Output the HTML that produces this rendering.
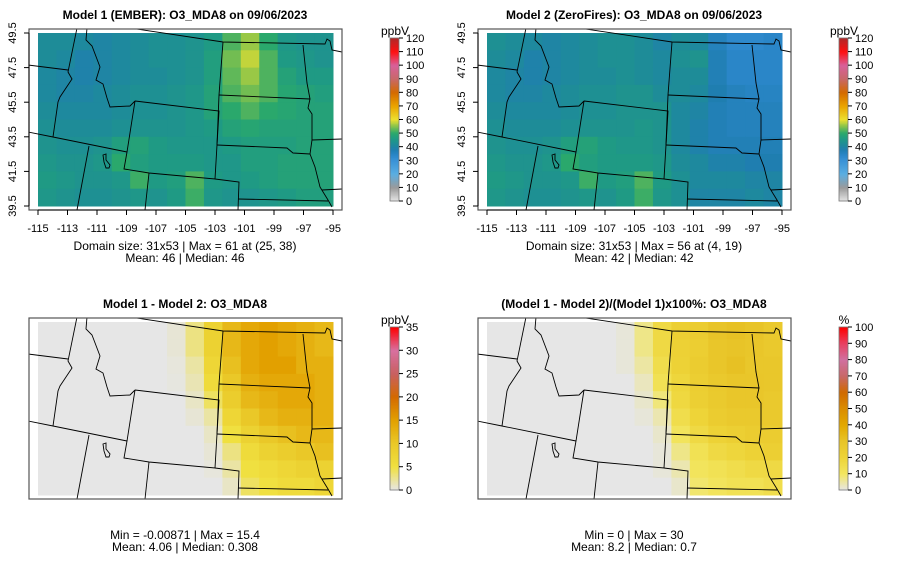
<!DOCTYPE html>
<html><head><meta charset="utf-8"><style>
body{margin:0;background:#fff;font-family:"Liberation Sans",sans-serif}
svg{display:block}
</style></head><body>
<svg id="fig" width="900" height="579" viewBox="0 0 900 579" xmlns="http://www.w3.org/2000/svg" font-family="Liberation Sans, sans-serif"></svg>
<script>
const lonTicks=[-115,-113,-111,-109,-107,-105,-103,-101,-99,-97,-95];
const latTicks=[39.5,41.5,43.5,45.5,47.5,49.5];
const model1=[
[42,42,41,40,41,42,43,43,44,46,52,56,50,45,44,44],
[42,41,39,40,41,42,43,43,44,47,54,58,52,46,45,44],
[41,40,39,40,41,42,42,43,44,47,53,56,52,48,46,46],
[41,40,40,41,42,43,43,44,45,48,52,54,52,49,48,47],
[42,41,41,41,42,43,43,44,45,48,50,52,50,49,48,48],
[43,42,42,42,43,44,44,44,45,46,48,49,48,48,48,48],
[44,43,43,44,47,48,46,45,45,45,46,47,47,47,48,48],
[45,44,44,45,50,47,46,46,46,45,45,47,47,48,48,48],
[46,45,44,44,45,51,46,47,52,46,45,46,47,48,48,48],
[45,44,43,43,44,45,44,46,51,45,44,44,45,46,47,47]];
const model2=[
[43,42,41,40,41,42,43,43,42,40,42,41,36,33,33,34],
[42,41,39,40,41,42,43,43,42,41,43,44,37,34,34,34],
[41,40,39,40,41,42,42,43,42,41,42,42,37,34,34,34],
[41,40,40,41,42,43,43,44,44,42,42,41,38,36,35,35],
[42,41,41,41,42,43,43,44,44,44,41,40,37,36,36,36],
[43,42,42,42,43,44,44,44,45,44,41,39,37,36,36,36],
[44,43,43,44,47,48,46,45,45,44,41,39,37,37,37,37],
[45,44,44,45,50,47,46,46,46,45,42,41,39,39,38,38],
[46,45,44,44,45,51,46,47,52,46,43,41,41,41,40,40],
[45,44,43,43,44,45,44,46,51,45,43,40,40,40,41,40]];
const diff=[
[0,0,0,0,0,0,0,0.5,3,8,12,14,15,14,13,12],
[0,0,0,0,0,0,0,0.5,3,8,12,14,15,14,13,12],
[0,0,0,0,0,0,0,0.3,2,7,11,14,15,15,13,13],
[0,0,0,0,0,0,0,0.2,1.5,6,10,13,14,14,14,13],
[0,0,0,0,0,0,0,0,1,4,9,12,13,14,14,13],
[0,0,0,0,0,0,0,0,0.5,2,7,10,12,13,13,13],
[0,0,0,0,0,0,0,0,0,1,5,8,10,11,12,12],
[0,0,0,0,0,0,0,0,0,0.5,3,6,8,9,10,11],
[0,0,0,0,0,0,0,0,0,0.3,2,5,6,7,8,8],
[0,0,0,0,0,0,0,0,0,0,1,4,5,6,6,7]];
const pct=[
[0,0,0,0,0,0,0,1,7,17,23,25,30,31,30,27],
[0,0,0,0,0,0,0,1,7,17,22,24,29,30,29,27],
[0,0,0,0,0,0,0,1,5,15,21,25,29,31,28,28],
[0,0,0,0,0,0,0,0,3,13,19,24,27,29,29,28],
[0,0,0,0,0,0,0,0,2,8,18,23,26,29,29,27],
[0,0,0,0,0,0,0,0,1,4,15,20,25,27,27,27],
[0,0,0,0,0,0,0,0,0,2,11,17,21,23,25,25],
[0,0,0,0,0,0,0,0,0,1,7,13,17,19,21,23],
[0,0,0,0,0,0,0,0,0,1,4,11,13,15,17,17],
[0,0,0,0,0,0,0,0,0,0,2,9,11,13,13,15]];
const ticksConc=[0,10,20,30,40,50,60,70,80,90,100,110,120];
const ticksDiff=[0,5,10,15,20,25,30,35];
const ticksPct=[0,10,20,30,40,50,60,70,80,90,100];

const NS="http://www.w3.org/2000/svg";
const svg=document.getElementById('fig');
function el(t,a,p){const e=document.createElementNS(NS,t);for(const k in a)e.setAttribute(k,a[k]);(p||svg).appendChild(e);return e;}
function hex(c){return [parseInt(c.slice(1,3),16),parseInt(c.slice(3,5),16),parseInt(c.slice(5,7),16)];}
function interp(stops,v){
  if(v<=stops[0][0])return stops[0][1];
  for(let i=1;i<stops.length;i++){if(v<=stops[i][0]){const a=stops[i-1],b=stops[i];const t=(v-a[0])/(b[0]-a[0]);const ca=hex(a[1]),cb=hex(b[1]);return 'rgb('+ca.map((x,j)=>Math.round(x+(cb[j]-x)*t)).join(',')+')';}}
  return stops[stops.length-1][1];}
const concStops=[[0,'#e6e6e6'],[10,'#9a9a9a'],[20,'#5aaee2'],[30,'#3a92d6'],[34,'#2a86c8'],[38,'#1f7eb0'],[42,'#1e8c98'],[46,'#1f9a84'],[50,'#2aa86c'],[55,'#84c24c'],[60,'#ece030'],[70,'#eaa400'],[80,'#d46a00'],[90,'#c86868'],[100,'#d8609a'],[110,'#ff1010'],[120,'#b02828']];
const diffStops=[[0,'#e6e6e6'],[5,'#f0e040'],[10,'#eac828'],[15,'#e2a000'],[20,'#d46a00'],[25,'#c86060'],[30,'#d870a0'],[35,'#ff0000']];
const pctStops=[[0,'#e6e6e6'],[10,'#f2e660'],[20,'#eed438'],[30,'#e8c428'],[40,'#e2a800'],[50,'#da8c00'],[60,'#d06a00'],[70,'#c86868'],[80,'#d070a0'],[90,'#e84060'],[100,'#ff0000']];

const X0=38,X1=333,Y0=33,Y1=206;
function xs(lon){return X0+(lon+115)/20*(X1-X0);}
function ys(lat){return Y1-(lat-39.5)/10*(Y1-Y0);}
const borders=[
"M130,28 L223,42 L325,44 L327,39 L330,41 L332,50 L342,52",
"M77,28 L68,72 L72,79 L60,97 L58,102 L53,137",
"M87,28 L86,40 L92,46 L100,67 L96,80 L103,84 L107,98 L110,107 L130,106 L135,101",
"M28,65 L68,70",
"M28,132 L53,137 L127,152",
"M89,146 L77,210",
"M135,101 L219,111 L215,179 L149,173 L124,169 L127,152 L135,101",
"M149,173 L145,210",
"M215,179 L239,182 L238,210",
"M238,199 L328,201",
"M223,42 L219,95 L217,145",
"M219,95 L310,99",
"M217,145 L287,148 L293,153 L310,154",
"M303,45 L307,83 L310,99 L308,108 L312,114 L312,140 L310,154 L315,167 L320,187 L328,200 L332,207",
"M312,140 L342,139","M322,190 L342,189",
"M103,155 L106,154 L106,160 L110,165 L109,168 L106,168 L104,162 Z"];

function panel(ox,oy,name,title,grid,stops,ticks,maxv,unit,txt,axes){
  const g=el('g',{transform:`translate(${ox},${oy})`});
  
  
  const t=el('text',{x:185,y:19,'text-anchor':'middle','font-size':12,'font-weight':'bold',fill:'#000'},g);t.textContent=title;
  
  const hm=el('g',{},g);
  const R=grid.length,C=grid[0].length;
  for(let r=0;r<R;r++)for(let c=0;c<C;c++){
    const lonA=-115+c*20/C,lonB=-115+(c+1)*20/C,latA=49.5-r*10/R,latB=49.5-(r+1)*10/R;
    const x=xs(lonA),y=ys(latA);
    const cell=el('rect',{x:x.toFixed(2),y:y.toFixed(2),width:(xs(lonB)-x+0.5).toFixed(2),height:(ys(latB)-y+0.5).toFixed(2),fill:interp(stops,grid[r][c])},hm);
    
  }
  const clipId='c'+ox+'_'+oy;
  const cp=el('clipPath',{id:clipId},g);el('rect',{x:29,y:29,width:313,height:181},cp);
  const bg=el('g',{'clip-path':`url(#${clipId})`,fill:'none',stroke:'#000','stroke-width':0.9},g);
  
  borders.forEach(d=>el('path',{d},bg));
  const box=el('rect',{x:29,y:29,width:313,height:181,fill:'none',stroke:'#555','stroke-width':1.2},g);
  
  if(axes){
    const xa=el('g',{'font-size':11},g);
    el('line',{x1:xs(-115),x2:xs(-95),y1:210,y2:210,stroke:'#000'},xa);
    lonTicks.forEach(v=>{el('line',{x1:xs(v),x2:xs(v),y1:210,y2:215,stroke:'#000'},xa);
      const l=el('text',{x:xs(v),y:232,'text-anchor':'middle'},xa);l.textContent=v;});
    const ya=el('g',{'font-size':11},g);
    el('line',{x1:29,x2:29,y1:ys(39.5),y2:ys(49.5),stroke:'#000'},ya);
    latTicks.forEach(v=>{el('line',{x1:24,x2:29,y1:ys(v),y2:ys(v),stroke:'#000'},ya);
      const l=el('text',{x:16,y:ys(v),'text-anchor':'middle',transform:`rotate(-90 16 ${ys(v)})`},ya);l.textContent=v;});
  }
  const cb=el('g',{},g);
  const cy0=38,cy1=201,n=120;
  for(let i=0;i<n;i++){const v0=i/n*maxv;const y=cy1-(i+1)/n*(cy1-cy0);
    el('rect',{x:390,y:y.toFixed(2),width:9,height:((cy1-cy0)/n+0.4).toFixed(2),fill:interp(stops,v0+maxv/n/2)},cb);}
  el('rect',{x:390,y:cy0,width:9,height:cy1-cy0,fill:'none',stroke:'#777','stroke-width':0.8},cb);
  ticks.forEach(v=>{const y=cy1-v/maxv*(cy1-cy0);el('line',{x1:399,x2:403,y1:y,y2:y,stroke:'#000'},cb);
    const l=el('text',{x:406,y:y+4,'font-size':11},cb);l.textContent=v;});
  const u=el('text',{x:395,y:35,'font-size':12,'text-anchor':'middle'},cb);u.textContent=unit;
  
  const st=el('g',{'font-size':12,'text-anchor':'middle'},g);
  txt.forEach((s,i)=>{const l=el('text',{x:185,y:(axes?250:250)+i*12},st);l.textContent=s;});
}
panel(0,0,'panel-model1','Model 1 (EMBER): O3_MDA8 on 09/06/2023',model1,concStops,ticksConc,120,'ppbV',['Domain size: 31x53 | Max = 61 at (25, 38)','Mean: 46 |  Median: 46'],true);
panel(449,0,'panel-model2','Model 2 (ZeroFires): O3_MDA8 on 09/06/2023',model2,concStops,ticksConc,120,'ppbV',['Domain size: 31x53 | Max = 56 at (4, 19)','Mean: 42 |  Median: 42'],true);
panel(0,289,'panel-difference','Model 1 - Model 2: O3_MDA8',diff,diffStops,ticksDiff,35,'ppbV',['Min = -0.00871 | Max = 15.4','Mean: 4.06 |  Median: 0.308'],false);
panel(449,289,'panel-percent-difference','(Model 1 - Model 2)/(Model 1)x100%: O3_MDA8',pct,pctStops,ticksPct,100,'%',['Min = 0 | Max = 30','Mean: 8.2 |  Median: 0.7'],false);
</script>
</body></html>
